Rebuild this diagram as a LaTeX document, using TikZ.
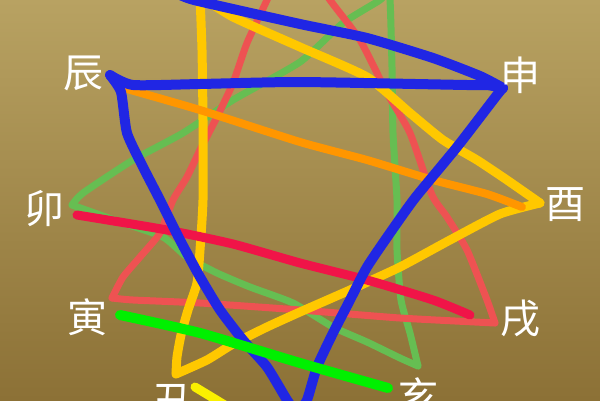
\documentclass[tikz,border=0pt]{standalone}
\usepackage{fontspec}
\newfontfamily\cjk{Noto Sans CJK SC}
\begin{document}
\begin{tikzpicture}[x=1pt,y=-1pt, line cap=round, line join=round,
  lab/.style={text=white, font=\cjk\fontsize{40}{40}\selectfont, inner sep=0pt},
  pen/.style={line width=#1},
  hand/.style={smooth, tension=0.35}]
\definecolor{bgtop}{RGB}{184,162,98}
\definecolor{bgbot}{RGB}{140,113,54}
\definecolor{cblue}{RGB}{32,38,228}
\definecolor{cyellow}{RGB}{255,200,0}
\definecolor{csalmon}{RGB}{238,82,82}
\definecolor{clgreen}{RGB}{102,190,82}
\definecolor{corange}{RGB}{255,150,0}
\definecolor{ccrimson}{RGB}{240,20,72}
\definecolor{cbgreen}{RGB}{0,240,0}
\definecolor{cbyellow}{RGB}{250,240,0}
\useasboundingbox (0,0) rectangle (600,400);
\begin{scope}
\clip (0,0) rectangle (600,400);
\shade[top color=bgtop, bottom color=bgbot] (0,0) rectangle (600,400);
% vertices
\coordinate (bSi) at (175,-8);
\coordinate (bShen) at (503,88);
\coordinate (bChen) at (110,75);
\coordinate (bZi) at (297,414);
\coordinate (ySi) at (200,-4);
\coordinate (yChou) at (176,374);
\coordinate (yYou) at (540,203);
\coordinate (rWu) at (292,-55);
\coordinate (rYin) at (112,298);
\coordinate (rXu) at (495,323);
\coordinate (gWei) at (386,-8);
\coordinate (gMao) at (72,205);
\coordinate (gHai) at (418,366);
\coordinate (oChen) at (120,87);
\coordinate (oYou) at (522,207);
\coordinate (kMao) at (77,215);
\coordinate (kXu) at (470,315);
\coordinate (tYin) at (120,315);
\coordinate (tHai) at (388,388);
\coordinate (uChou) at (195,387);
\coordinate (uZi) at (228,407);
% light green triangle
\draw[clgreen, pen=7] plot[hand] coordinates {(gWei) (380,0) (343,23) (300,62) (233,100) (183,133) (133,160) (83,193) (gMao)};
\draw[clgreen, pen=7] plot[hand] coordinates {(gMao) (120,222) (163,237) (187,257) (217,273) (250,287) (293,303) (333,327) (367,342) (400,358) (gHai)};
\draw[clgreen, pen=7] plot[hand] coordinates {(gHai) (410,333) (401,300) (397,250) (397,200) (393,133) (392,67) (390,0) (gWei)};
% salmon triangle
\draw[csalmon, pen=7] plot[hand] coordinates {(rWu) (267,0) (247,43) (233,83) (217,117) (200,150) (187,177) (173,200) (160,233) (140,257) (123,277) (rYin)};
\draw[csalmon, pen=7] plot[hand] coordinates {(rYin) (133,300) (200,303) (300,310) (400,318) (rXu)};
\draw[csalmon, pen=7] plot[hand] coordinates {(rXu) (487,300) (467,250) (447,217) (432,195) (410,133) (387,93) (360,40) (330,0) (rWu)};
% yellow triangle
\draw[cyellow, pen=9] plot[hand] coordinates {(ySi) (202,50) (203,120) (203,200) (200,250) (197,283) (188,310) (181,335) (177,357) (yChou)};
\draw[cyellow, pen=9] plot[hand] coordinates {(yChou) (207,360) (233,344) (267,327) (300,312) (350,290) (400,267) (450,240) (500,214) (yYou)};
\draw[cyellow, pen=9] plot[hand] coordinates {(yYou) (507,180) (477,160) (443,140) (410,113) (367,77) (300,47) (233,17) (ySi)};
% orange
\draw[corange, pen=8] plot[hand] coordinates {(oChen) (200,110) (300,142) (367,160) (433,180) (487,194) (oYou)};
% crimson
\draw[ccrimson, pen=9] plot[hand] coordinates {(kMao) (167,230) (233,244) (300,263) (367,280) (433,300) (kXu)};
% blue
\draw[cblue, pen=10] plot[hand] coordinates {(bSi) (194,0) (300,24) (367,38) (433,58) (480,76) (bShen)};
\draw[cblue, pen=10] plot[hand] coordinates {(bShen) (487,85) (467,85) (300,82) (200,84) (133,85) (bChen)};
\draw[cblue, pen=10] plot[hand] coordinates {(bShen) (497,95) (457,147) (415,198) (390,233) (367,267) (350,300) (333,333) (317,367) (307,400) (bZi)};
\draw[cblue, pen=10] plot[hand] coordinates {(bChen) (121,92) (127,133) (143,167) (160,200) (180,240) (200,277) (220,310) (243,340) (267,367) (287,400) (bZi)};
% bright green
\draw[cbgreen, pen=10] plot[hand] coordinates {(tYin) (200,333) (300,363) (tHai)};
% bright yellow
\draw[cbyellow, pen=9] (uChou) -- (uZi);
% labels
\node[lab] (chen) at (83,73) {辰};
\node[lab] (shen) at (520,75) {申};
\node[lab] (mao) at (44,209) {卯};
\node[lab] (you) at (565,205) {酉};
\node[lab] (yin) at (87,317) {寅};
\node[lab] (xu) at (520,319) {戌};
\node[lab] (chou) at (172,401) {丑};
\node[lab] (hai) at (418,396) {亥};
\end{scope}
\end{tikzpicture}
\end{document}
